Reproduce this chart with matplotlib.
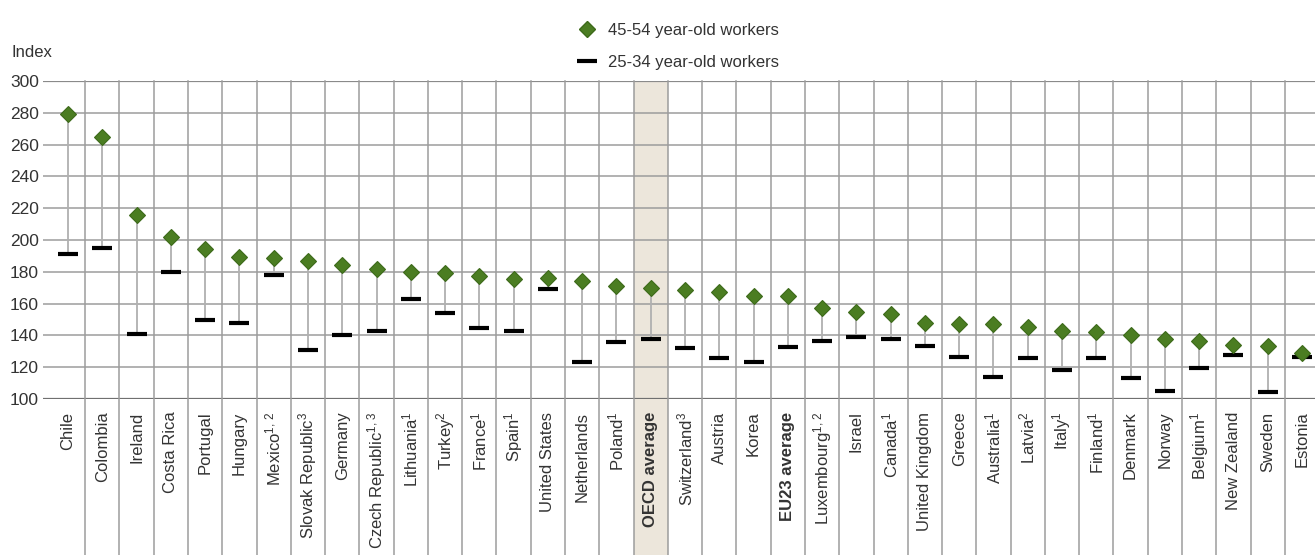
import matplotlib
matplotlib.use("Agg")
import matplotlib.pyplot as plt
from matplotlib.lines import Line2D

plt.rcParams['font.family'] = ['Liberation Sans', 'DejaVu Sans']
plt.rcParams['mathtext.fontset'] = 'custom'
plt.rcParams['mathtext.rm'] = 'Liberation Sans'
plt.rcParams['mathtext.it'] = 'Liberation Sans:italic'
plt.rcParams['mathtext.bf'] = 'Liberation Sans:bold'

# countries, left to right
countries = ["Chile", "Colombia", "Ireland", "Costa Rica", "Portugal", "Hungary",
             r"Mexico$^{\mathrm{1,\,2}}$", r"Slovak Republic$^{\mathrm{3}}$", "Germany",
             r"Czech Republic$^{\mathrm{1,\,3}}$", r"Lithuania$^{\mathrm{1}}$",
             r"Turkey$^{\mathrm{2}}$", r"France$^{\mathrm{1}}$", r"Spain$^{\mathrm{1}}$",
             "United States", "Netherlands", r"Poland$^{\mathrm{1}}$", "OECD average",
             r"Switzerland$^{\mathrm{3}}$", "Austria", "Korea", "EU23 average",
             r"Luxembourg$^{\mathrm{1,\,2}}$", "Israel", r"Canada$^{\mathrm{1}}$",
             "United Kingdom", "Greece", r"Australia$^{\mathrm{1}}$", r"Latvia$^{\mathrm{2}}$",
             r"Italy$^{\mathrm{1}}$", r"Finland$^{\mathrm{1}}$", "Denmark", "Norway",
             r"Belgium$^{\mathrm{1}}$", "New Zealand", "Sweden", "Estonia"]

# 45-54 year-old workers
older = [279, 265, 215.5, 202, 194.5, 189.5, 189, 187, 184.5, 181.5, 180, 179,
         177.5, 175.5, 176, 174, 171, 170, 168.5, 167.5, 165, 165, 157, 154.5,
         153.5, 148, 147.5, 147.5, 145.5, 143, 142, 140.5, 138, 136.5, 134, 133.5, 129]

# 25-34 year-old workers
younger = [191, 195, 141, 180, 150, 148, 178, 131, 140, 143, 163, 154,
           144.5, 142.5, 169.5, 123.5, 136, 138, 132, 126, 123.5, 133, 136.5, 139,
           137.5, 133.5, 126.5, 114, 125.5, 118, 126, 113.5, 105, 119.5, 127.5, 104.5, 126.5]

bold_labels = ["OECD average", "EU23 average"]

fig = plt.figure(figsize=(13.15, 5.55), dpi=100)
ax = fig.add_axes([0.0327, 0.281, 0.9673, 0.573])

x = list(range(len(countries)))
grid_col = '#9c9c9c'

# shaded OECD column
oecd = countries.index("OECD average")
ax.axvspan(oecd - 0.5, oecd + 0.5, ymin=-0.5, ymax=1, color='#ece6db', zorder=0, clip_on=False, lw=0)

# grid
for yv in range(100, 301, 20):
    ax.axhline(yv, color=grid_col, lw=1.1, zorder=1)
ax.axhline(300, color='#8a8a8a', lw=1.6, zorder=1)
ax.axhline(100, color='#707070', lw=1.6, zorder=1)
for i in x[:-1]:
    ax.axvline(i + 0.5, ymin=-0.5, ymax=1, color=grid_col, lw=1.1, zorder=1, clip_on=False)

# stems, dashes, diamonds
ax.vlines(x, younger, older, color='#b0b0b0', lw=1.3, zorder=2)
ax.plot(x, younger, ls='none', marker='_', ms=14, mew=3, color='black', zorder=3)
ax.plot(x, older, ls='none', marker='D', ms=8, color='#4b7d22', mec='#3d6a1a', mew=0.8, zorder=4)

ax.set_xlim(-0.73, 36.38)
ax.set_ylim(100, 300)
ax.set_yticks(range(100, 301, 20))
ax.set_xticks(x)
ax.set_xticklabels(countries, rotation=90, fontsize=12)
for lab in ax.get_xticklabels():
    if lab.get_text() in bold_labels:
        lab.set_fontweight('bold')
ax.tick_params(axis='x', length=0, pad=9, colors='#333333')
ax.tick_params(axis='y', length=0, pad=3, labelsize=12.5, colors='#333333')
for s in ax.spines.values():
    s.set_visible(False)

fig.text(0.009, 0.905, "Index", fontsize=12, color='#333333', va='center')

handles = [Line2D([], [], ls='none', marker='D', ms=8, color='#4b7d22', mec='#3d6a1a'),
           Line2D([], [], ls='none', marker='_', ms=14, mew=3, color='black')]
fig.legend(handles, ["45-54 year-old workers", "25-34 year-old workers"],
           loc='upper left', bbox_to_anchor=(0.427, 0.985), frameon=False,
           fontsize=12, handlelength=1.2, handletextpad=0.7, labelspacing=1.0,
           labelcolor='#333333')

fig.savefig("out.png", dpi=100)
